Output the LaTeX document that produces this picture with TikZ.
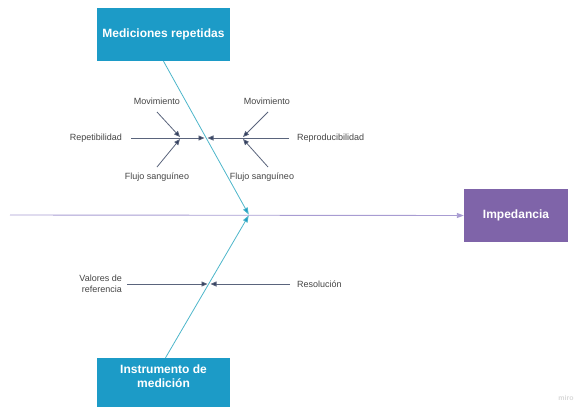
\documentclass[tikz,border=0pt]{standalone}
\usepackage{fontspec}
\setmainfont{Liberation Sans}
\usetikzlibrary{arrows.meta}
\definecolor{boxblue}{HTML}{1C9BC7}
\definecolor{diagcyan}{HTML}{4DB6CA}
\definecolor{spinecol}{HTML}{A89CD2}
\definecolor{impcol}{HTML}{7F64A9}
\definecolor{subline}{HTML}{5A647C}
\definecolor{subtip}{HTML}{2E3B5C}
\definecolor{labelcol}{HTML}{444444}
\tikzset{
  causebox/.style={fill=boxblue, minimum width=133pt, inner sep=0pt},
  boxtext/.style={text=white, font=\fontsize{12}{14}\selectfont\bfseries, align=center, inner sep=0pt},
  effectbox/.style={fill=impcol, minimum width=104pt, minimum height=53pt, text=white, font=\fontsize{12}{14}\selectfont\bfseries},
  lbl/.style={text=labelcol, font=\fontsize{9}{10.5}\selectfont, inner sep=1pt, align=center},
  spine/.style={draw=spinecol, line width=0.9pt, -{Triangle[length=7pt,width=5pt,fill=spinecol]}},
  diag/.style={draw=diagcyan, line width=0.8pt, -{Triangle[length=7pt,width=5pt,fill=boxblue]}},
  subarrow/.style={draw=subline, line width=0.8pt, -{Triangle[length=6pt,width=5pt,fill=subtip]}},
}
\begin{document}
\begin{tikzpicture}[x=1pt,y=-1pt]
\useasboundingbox (0,0) rectangle (579,407);
% boxes
\node[causebox, minimum height=53pt] (top) at (163.5,34.5) {};
\node[boxtext] (toptext) at (163.5,34) {Mediciones repetidas};
\node[causebox, minimum height=49pt] (instr) at (163.5,382.5) {};
\node[boxtext] (instrtext) at (163.5,376) {Instrumento de\\medición};
\node[effectbox] (imp) at (516,215.5) {Impedancia};
% spine
\coordinate (tail) at (10,215);
\coordinate (hub) at (249,215);
\draw[spine] (tail) -- (imp.west);
% diagonals
\draw[diag, shorten >=0.5pt] (top.south) -- (hub);
\draw[diag, shorten >=0.5pt] ([xshift=2pt]instr.north) -- (hub);
% upper sub-causes
\coordinate (j1) at (206,138);
\node[lbl, anchor=east] (rep) at (123,138) {Repetibilidad};
\node[lbl, anchor=west] (repro) at (296,138) {Reproducibilidad};
\draw[subarrow, shorten <=8pt, shorten >=1.5pt] (rep.east) -- (j1);
\draw[subarrow, shorten <=7pt, shorten >=1.5pt] (repro.west) -- (j1);
\node[lbl] (mov1) at (157,101) {Movimiento};
\node[lbl] (flu1) at (157,177) {Flujo sanguíneo};
\node[lbl] (mov2) at (267,101) {Movimiento};
\node[lbl] (flu2) at (262,177) {Flujo sanguíneo};
\coordinate (m1s) at (157,112);
\coordinate (m1e) at (180,137);
\coordinate (f1s) at (157,167);
\coordinate (f1e) at (180,139);
\coordinate (m2s) at (268,112);
\coordinate (m2e) at (243,137);
\coordinate (f2s) at (268,167);
\coordinate (f2e) at (243,139);
\draw[subarrow] (m1s) -- (m1e);
\draw[subarrow] (f1s) -- (f1e);
\draw[subarrow] (m2s) -- (m2e);
\draw[subarrow] (f2s) -- (f2e);
% lower sub-causes
\coordinate (j2) at (209,284);
\node[lbl, anchor=east, align=right] (valref) at (123,284) {Valores de\\referencia};
\node[lbl, anchor=west] (resol) at (296,284) {Resolución};
\draw[subarrow, shorten <=4pt, shorten >=1.5pt] (valref.east) -- (j2);
\draw[subarrow, shorten <=6pt, shorten >=1.5pt] (resol.west) -- (j2);
% watermark
\node[text=black!15, font=\fontsize{7}{8}\selectfont\bfseries, inner sep=0pt] (miro) at (566,398) {miro};
\end{tikzpicture}
\end{document}
